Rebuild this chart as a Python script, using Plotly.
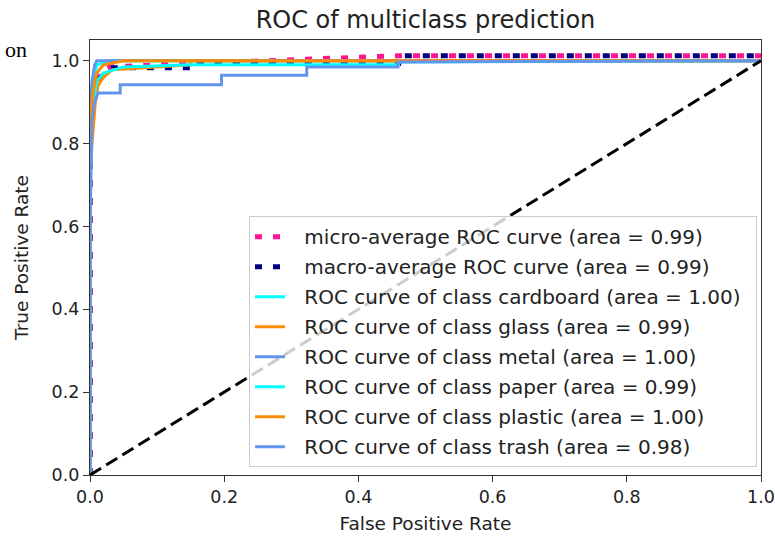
import plotly.graph_objects as go

# ---- data ----
micro_fpr = [0.0, 0.0, 0.003, 0.008, 0.015, 0.03, 0.15, 0.32, 0.46, 1.0]
micro_tpr = [0.0, 0.86, 0.93, 0.96, 0.975, 0.985, 0.993, 1.005, 1.012, 1.012]

macro_fpr = [0.0, 0.0, 0.003, 0.01, 0.03, 0.15, 0.15, 0.46, 0.46, 1.0]
macro_tpr = [0.0, 0.80, 0.90, 0.95, 0.983, 0.983, 0.993, 0.993, 1.012, 1.012]

cardboard_fpr = [0.0, 0.0, 0.005, 0.01, 0.03, 1.0]
cardboard_tpr = [0.0, 0.90, 0.95, 0.99, 1.0, 1.0]

glass_fpr = [0.0, 0.0, 0.003, 0.008, 0.012, 0.02, 0.033, 0.15, 0.15, 1.0]
glass_tpr = [0.0, 0.72, 0.80, 0.90, 0.94, 0.96, 0.978, 0.99, 1.0, 1.0]

metal_fpr = [0.0, 0.0, 0.003, 0.007, 0.01, 1.0]
metal_tpr = [0.0, 0.88, 0.95, 0.99, 1.0, 1.0]

paper_fpr = [0.0, 0.0, 0.005, 0.01, 0.02, 0.05, 0.15, 0.46, 0.46, 1.0]
paper_tpr = [0.0, 0.85, 0.90, 0.95, 0.97, 0.985, 0.99, 0.99, 0.997, 1.0]

plastic_fpr = [0.0, 0.0, 0.005, 0.01, 0.02, 0.05, 1.0]
plastic_tpr = [0.0, 0.85, 0.93, 0.97, 0.99, 1.0, 1.0]

trash_fpr = [0.0, 0.0, 0.003, 0.007, 0.012, 0.045, 0.045, 0.196, 0.196, 0.323, 0.323, 0.459, 0.459, 1.0]
trash_tpr = [0.0, 0.60, 0.86, 0.90, 0.922, 0.922, 0.942, 0.942, 0.965, 0.965, 0.985, 0.985, 0.997, 1.0]

diag = [0.0, 1.0]

class_names = ["cardboard", "glass", "metal", "paper", "plastic", "trash"]
class_auc = ["1.00", "0.99", "1.00", "0.99", "1.00", "0.98"]
micro_auc = "0.99"
macro_auc = "0.99"
class_colors = ["#00FFFF", "#FF8C00", "#6495ED", "#00FFFF", "#FF8C00", "#6495ED"]
class_fpr = [cardboard_fpr, glass_fpr, metal_fpr, paper_fpr, plastic_fpr, trash_fpr]
class_tpr = [cardboard_tpr, glass_tpr, metal_tpr, paper_tpr, plastic_tpr, trash_tpr]

x_ticks = [0.0, 0.2, 0.4, 0.6, 0.8, 1.0]
y_ticks = [0.0, 0.2, 0.4, 0.6, 0.8, 1.0]

FONT = "DejaVu Sans"
TXT = "#222222"
PAD = "&nbsp;\u2009\u2009"
TAIL = "&nbsp;\u2009"

fig = go.Figure()
fig.add_trace(go.Scatter(
    x=micro_fpr, y=micro_tpr, mode="lines", legendgroup="g0",
    name=PAD + f"micro-average ROC curve (area = {micro_auc})" + TAIL,
    line=dict(color="#FF1493", width=5, dash="7px,11px")))
fig.add_trace(go.Scatter(
    x=macro_fpr, y=macro_tpr, mode="lines", legendgroup="g1",
    name=PAD + f"macro-average ROC curve (area = {macro_auc})" + TAIL,
    line=dict(color="#000080", width=5, dash="7px,11px")))
for i, (nm, auc, col, fx, ty) in enumerate(zip(class_names, class_auc, class_colors, class_fpr, class_tpr)):
    fig.add_trace(go.Scatter(
        x=fx, y=ty, mode="lines", legendgroup=f"c{i}",
        name=PAD + f"ROC curve of class {nm} (area = {auc})" + TAIL,
        line=dict(color=col, width=3)))
fig.add_trace(go.Scatter(
    x=diag, y=diag, mode="lines", showlegend=False,
    line=dict(color="black", width=3, dash="13px,6px")))

axis_common = dict(
    showgrid=False, zeroline=False, showline=True, mirror=True,
    linecolor="#333333", linewidth=1.3, automargin=False,
    ticks="outside", ticklen=6, tickwidth=1.2, tickcolor="#333333",
    tickfont=dict(family=FONT, size=17.5, color=TXT),
    tickformat=".1f",
)

fig.update_layout(
    width=775, height=540,
    margin=dict(l=90, r=14, t=40, b=65),
    paper_bgcolor="white", plot_bgcolor="white",
    title=dict(text="ROC of multiclass prediction", x=0.5, xref="paper",
               y=1 - 20 / 540, yref="container", yanchor="middle",
               font=dict(family=FONT, size=24, color=TXT)),
    xaxis=dict(range=[0, 1.0], tickvals=x_ticks,
               title=dict(text="False Positive Rate", font=dict(family=FONT, size=18.5, color=TXT), standoff=10),
               **axis_common),
    yaxis=dict(range=[0, 1.05], tickvals=y_ticks,
               title=dict(text="True Positive Rate", font=dict(family=FONT, size=18.5, color=TXT), standoff=18),
               **axis_common),
    legend=dict(x=(757 - 90) / 671, y=0.018, xanchor="right", yanchor="bottom",
                bgcolor="rgba(255,255,255,0.8)", bordercolor="#cccccc", borderwidth=1,
                font=dict(family=FONT, size=20, color=TXT),
                tracegroupgap=1),
    showlegend=True,
)

fig.add_annotation(text="on", xref="paper", yref="paper",
                   x=(3 - 90) / 671, y=(475 - 50) / 435, xanchor="left", yanchor="middle",
                   showarrow=False, font=dict(family="Liberation Serif", size=22, color="black"))

fig.write_html("out.html")
